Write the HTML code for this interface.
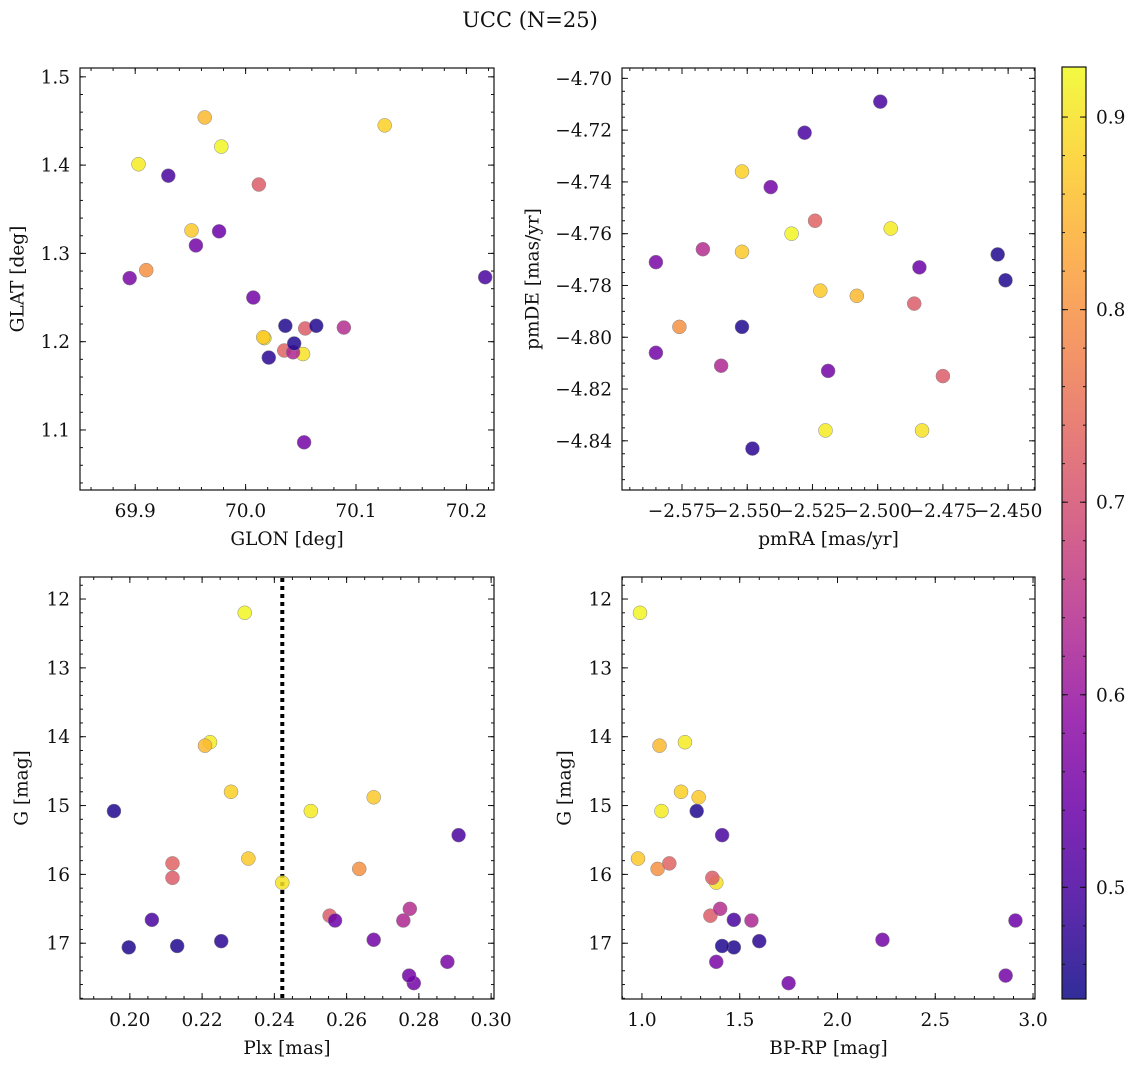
<!DOCTYPE html>
<html><head><meta charset="utf-8"><style>
body{margin:0;background:#fff}
svg text{font-family:"DejaVu Serif","Liberation Serif",serif;fill:#111}
</style></head><body>
<svg id="fig" width="1136" height="1067" viewBox="0 0 1136 1067" xmlns="http://www.w3.org/2000/svg">
<text x="530" y="27" font-size="21" text-anchor="middle">UCC (N=25)</text>
</svg>
<script>
// star data (per star, same index across panels)
const colorVal=[.92,.91,.91,.90,.88,.87,.87,.85,.80,.73,.72,.72,.64,.63,.56,.55,.55,.54,.55,.50,.50,.46,.46,.46,.47];
const glon=[69.978,69.903,70.017,70.052,70.126,69.951,70.016,69.963,69.910,70.035,70.012,70.054,70.089,70.043,69.895,70.007,70.053,69.976,69.955,69.930,70.217,70.036,70.064,70.044,70.021];
const glat=[1.421,1.401,1.204,1.186,1.445,1.326,1.205,1.454,1.281,1.190,1.378,1.215,1.216,1.188,1.272,1.250,1.086,1.325,1.309,1.388,1.273,1.218,1.218,1.198,1.182];
const pmra=[-2.533,-2.495,-2.520,-2.483,-2.552,-2.552,-2.522,-2.508,-2.576,-2.524,-2.486,-2.475,-2.567,-2.560,-2.585,-2.585,-2.541,-2.484,-2.519,-2.499,-2.528,-2.454,-2.451,-2.552,-2.548];
const pmde=[-4.760,-4.758,-4.836,-4.836,-4.736,-4.767,-4.782,-4.784,-4.796,-4.755,-4.787,-4.815,-4.766,-4.811,-4.771,-4.806,-4.742,-4.773,-4.813,-4.709,-4.721,-4.768,-4.778,-4.796,-4.843];
const plx=[.2318,.2222,.2501,.2422,.228,.2675,.2328,.2208,.2635,.2118,.2118,.2553,.2775,.2757,.2879,.2786,.2675,.2568,.2773,.2061,.2910,.1956,.1997,.2131,.2253];
const gmag=[12.2,14.08,15.08,16.12,14.8,14.88,15.77,14.13,15.92,15.84,16.05,16.6,16.5,16.67,17.27,17.58,16.95,16.67,17.47,16.66,15.43,15.08,17.06,17.04,16.97];
const bprp=[.99,1.22,1.10,1.38,1.20,1.29,.98,1.09,1.08,1.14,1.36,1.35,1.40,1.56,1.38,1.75,2.23,2.91,2.86,1.47,1.41,1.28,1.47,1.41,1.60];
const plxLine=0.2422;
const cRange=[0.442,0.926];
const p1xt=[69.9,70.0,70.1,70.2], p1yt=[1.1,1.2,1.3,1.4,1.5];
const p2xt=[-2.575,-2.550,-2.525,-2.500,-2.475,-2.450], p2yt=[-4.84,-4.82,-4.80,-4.78,-4.76,-4.74,-4.72,-4.70];
const p3xt=[0.20,0.22,0.24,0.26,0.28,0.30], gyt=[12,13,14,15,16,17];
const p4xt=[1.0,1.5,2.0,2.5,3.0], cbt=[0.5,0.6,0.7,0.8,0.9];

const NS="http://www.w3.org/2000/svg", svg=document.getElementById('fig');
const FS=18.5;
function el(t,a,p){const e=document.createElementNS(NS,t);for(const k in a)e.setAttribute(k,a[k]);(p||svg).appendChild(e);return e;}
const stops=[[13,8,135],[65,4,157],[106,0,168],[143,13,164],[177,42,144],[204,71,120],[225,100,98],[242,132,75],[252,166,54],[252,206,37],[240,249,33]];
function plasma(t){t=Math.max(0,Math.min(1,t))*10;const i=Math.min(9,Math.floor(t)),f=t-i,a=stops[i],b=stops[i+1];
 return 'rgb('+a.map((v,k)=>Math.round(v+(b[k]-v)*f)).join(',')+')';}
function fmt(v,d){let s=v.toFixed(d);return s.replace('-','\u2212');}
function panel(name,box,xr,yr,xt,yt,xminor,yminor,xd,yd,xs,ys,xlab,ylab,invY,yOff){
 const [L,T,R,B]=box;
 const X=v=>L+(v-xr[0])/(xr[1]-xr[0])*(R-L);
 const Y=invY?v=>T+(v-yr[0])/(yr[1]-yr[0])*(B-T):v=>B-(v-yr[0])/(yr[1]-yr[0])*(B-T);
 const g=el('g',{});
 
 
 el('rect',{x:L,y:T,width:R-L,height:B-T,fill:'none',stroke:'#111','stroke-width':1.2},g);
 const lo=Math.min(xr[0],xr[1]),hi=Math.max(xr[0],xr[1]);
 for(let v=Math.ceil(lo/xminor-1e-6)*xminor;v<=hi+1e-9;v+=xminor){const x=X(v);
  el('line',{x1:x,x2:x,y1:B,y2:B-3,stroke:'#111'},g);el('line',{x1:x,x2:x,y1:T,y2:T+3,stroke:'#111'},g);}
 const ylo=Math.min(yr[0],yr[1]),yhi=Math.max(yr[0],yr[1]);
 for(let v=Math.ceil(ylo/yminor-1e-6)*yminor;v<=yhi+1e-9;v+=yminor){const y=Y(v);
  el('line',{x1:L,x2:L+3,y1:y,y2:y,stroke:'#111'},g);el('line',{x1:R,x2:R-3,y1:y,y2:y,stroke:'#111'},g);}
 xt.forEach(v=>{const x=X(v);el('line',{x1:x,x2:x,y1:B,y2:B-6,stroke:'#111'},g);el('line',{x1:x,x2:x,y1:T,y2:T+6,stroke:'#111'},g);
  const t=el('text',{x:x,y:B+27,'font-size':FS,'text-anchor':'middle'},g);t.textContent=fmt(v,xd);
  
  });
 yt.forEach(v=>{const y=Y(v);el('line',{x1:L,x2:L+6,y1:y,y2:y,stroke:'#111'},g);el('line',{x1:R,x2:R-6,y1:y,y2:y,stroke:'#111'},g);
  const t=el('text',{x:L-10,y:y+6.5,'font-size':FS,'text-anchor':'end'},g);t.textContent=fmt(v,yd);
  
  });
 const xl=el('text',{x:(L+R)/2,y:B+55,'font-size':FS,'text-anchor':'middle'},g);xl.textContent=xlab;
 
 
 const cy=(T+B)/2, cx=L-yOff;
 const yl=el('text',{x:cx,y:cy,'font-size':FS,'text-anchor':'middle','dominant-baseline':'central',transform:'rotate(-90 '+cx+' '+cy+')'},g);yl.textContent=ylab;
 
 
 return {g,X,Y,xs,ys};
}
function points(p){
 p.xs.forEach((xv,i)=>{const c=el('circle',{cx:p.X(xv),cy:p.Y(p.ys[i]),r:7,fill:plasma((colorVal[i]-cRange[0])/(cRange[1]-cRange[0])),'fill-opacity':0.85,stroke:'#888','stroke-width':0.5},p.g);
  
  });
}
const p1=panel('glon-glat-panel',[80,68,494,490],[69.850,70.225],[1.032,1.51],p1xt,p1yt,0.02,0.02,1,1,glon,glat,'GLON [deg]','GLAT [deg]',false,62);
points(p1);
const p2=panel('pm-panel',[622,68,1035,490],[-2.598,-2.4397],[-4.859,-4.696],p2xt,p2yt,0.005,0.005,3,2,pmra,pmde,'pmRA [mas/yr]','pmDE [mas/yr]',false,89);
points(p2);
const p3=panel('plx-g-panel',[80,577,494,999],[0.1862,0.3008],[11.68,17.81],p3xt,gyt,0.005,0.2,2,0,plx,gmag,'Plx [mas]','G [mag]',true,58);
const lx=p3.X(plxLine);
const dl=el('line',{x1:lx,x2:lx,y1:578,y2:998,stroke:'#000','stroke-width':4,'stroke-dasharray':'4 4'},p3.g);


points(p3);
const p4=panel('cmd-panel',[622,577,1035,999],[0.898,3.01],[11.68,17.81],p4xt,gyt,0.1,0.2,1,0,bprp,gmag,'BP-RP [mag]','G [mag]',true,57);
points(p4);
// colorbar
const cb=el('g',{});


const defs=el('defs',{},cb),lg=el('linearGradient',{id:'cg',x1:0,y1:1,x2:0,y2:0},defs);
for(let i=0;i<=10;i++)el('stop',{offset:i/10,'stop-color':plasma(i/10),'stop-opacity':0.85},lg);
const cT=67,cB=999,cL=1062,cR=1086;
el('rect',{x:cL,y:cT,width:cR-cL,height:cB-cT,fill:'url(#cg)',stroke:'#111','stroke-width':1.2},cb);
const CY=v=>cB-(v-cRange[0])/(cRange[1]-cRange[0])*(cB-cT);
for(let v=0.46;v<=0.92;v+=0.02){el('line',{x1:cR,x2:cR-3,y1:CY(v),y2:CY(v),stroke:'#111'},cb);el('line',{x1:cL,x2:cL+3,y1:CY(v),y2:CY(v),stroke:'#111'},cb);}
cbt.forEach(v=>{const y=CY(v);el('line',{x1:cR,x2:cR-6,y1:y,y2:y,stroke:'#111'},cb);el('line',{x1:cL,x2:cL+6,y1:y,y2:y,stroke:'#111'},cb);
 const t=el('text',{x:cR+10,y:y+6.5,'font-size':FS},cb);t.textContent=v.toFixed(1);
 
 });
</script>
</body></html>
